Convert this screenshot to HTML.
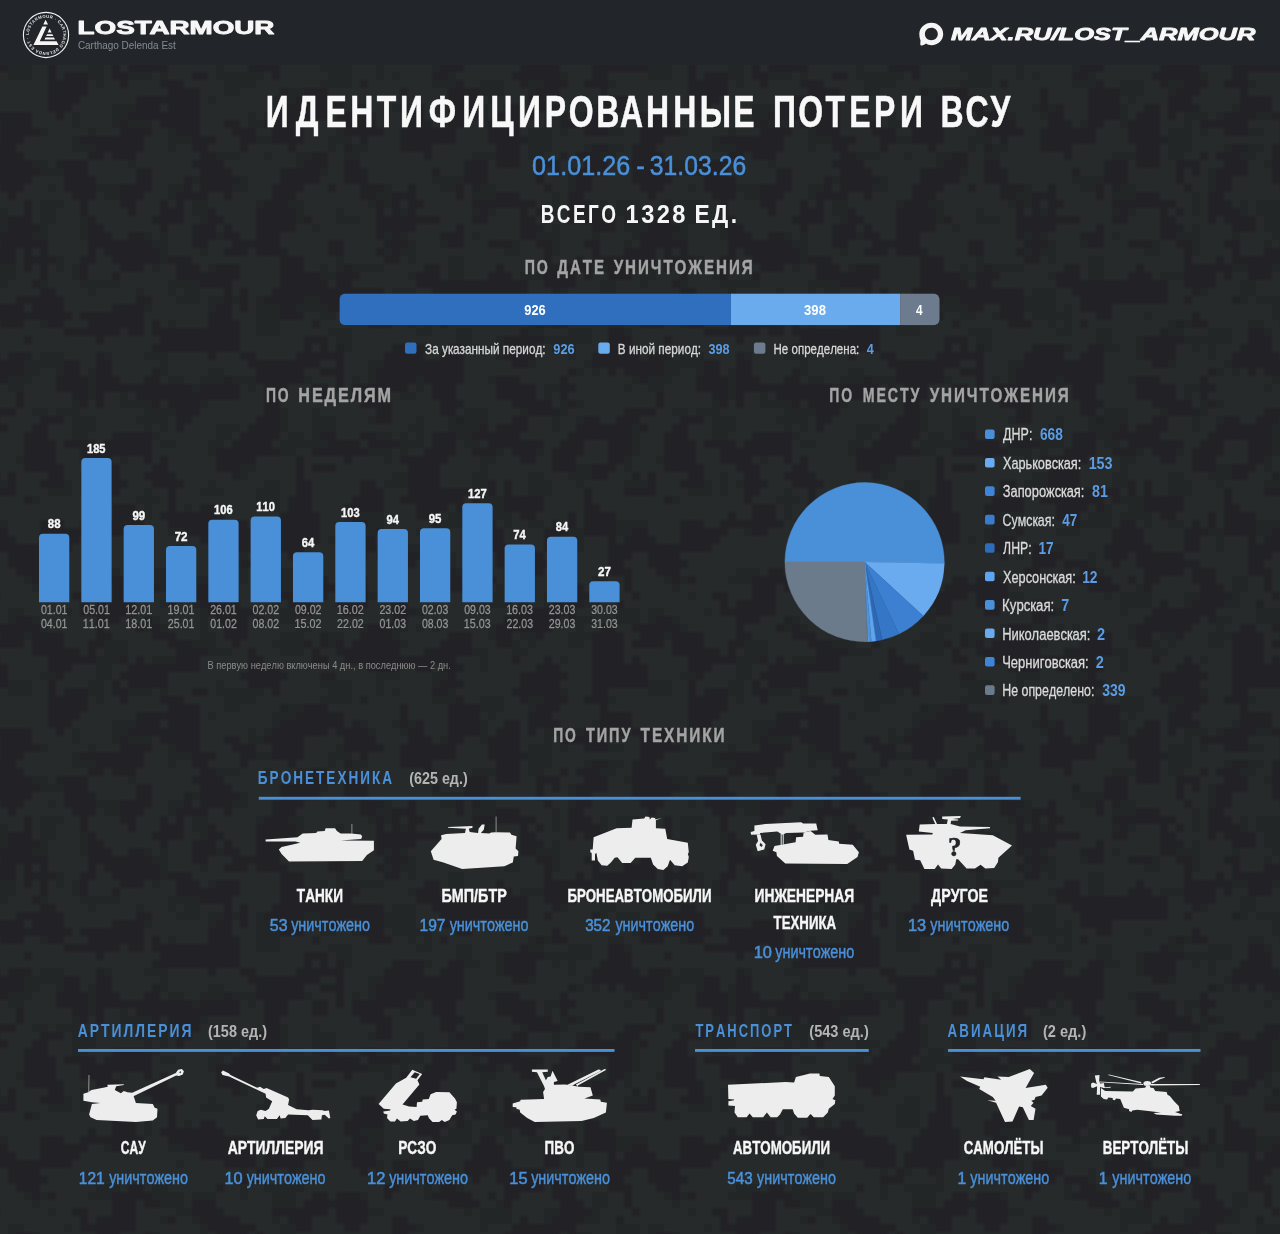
<!DOCTYPE html>
<html lang="ru">
<head>
<meta charset="utf-8">
<title>Идентифицированные потери ВСУ — LostArmour</title>
<style>
html,body{margin:0;padding:0;background:#212526;}
body{width:1280px;height:1234px;overflow:hidden;font-family:"Liberation Sans",sans-serif;}
#page{position:relative;width:1280px;height:1234px;overflow:hidden;background:#242828;}
#bg{position:absolute;left:0;top:0;width:1280px;height:1234px;}
#hdr{position:absolute;left:0;top:0;width:1280px;height:65px;background:#22262b;}
#main{position:absolute;left:0;top:0;width:1280px;height:1234px;font-family:"Liberation Sans",sans-serif;will-change:transform;}
#hdr svg{will-change:transform;}
#main text{white-space:pre;}
</style>
</head>
<body>
<div id="page">
<svg id="bg" width="1280" height="1234" viewBox="0 0 1280 1234" >
<defs><pattern id="camo" width="640" height="616" patternUnits="userSpaceOnUse">
<rect width="640" height="616" fill="#272b29"/>
<path d="M8,0h8v8h-8zM32,0h8v8h-8zM152,0h8v8h-8zM200,0h8v8h-8zM280,0h16v8h-16zM576,0h16v8h-16zM616,0h24v8h-24zM40,8h8v8h-8zM144,8h8v8h-8zM160,8h8v8h-8zM200,8h8v8h-8zM296,8h16v8h-16zM360,8h8v8h-8zM392,8h16v8h-16zM416,8h8v8h-8zM432,8h8v8h-8zM488,8h8v8h-8zM576,8h8v8h-8zM24,16h8v8h-8zM200,16h16v8h-16zM280,16h24v8h-24zM328,16h16v8h-16zM392,16h8v8h-8zM488,16h8v8h-8zM520,16h16v8h-16zM568,16h24v8h-24zM104,24h24v8h-24zM192,24h24v8h-24zM272,24h32v8h-32zM328,24h8v8h-8zM400,24h8v8h-8zM512,24h8v8h-8zM528,24h8v8h-8zM568,24h16v8h-16zM104,32h24v8h-24zM208,32h24v8h-24zM280,32h24v8h-24zM472,32h16v8h-16zM512,32h16v8h-16zM96,40h24v8h-24zM152,40h24v8h-24zM480,40h8v8h-8zM560,40h8v8h-8zM96,48h16v8h-16zM480,48h8v8h-8zM40,56h16v8h-16zM96,56h16v8h-16zM376,56h24v8h-24zM432,56h16v8h-16zM8,64h24v8h-24zM88,64h16v8h-16zM216,64h8v8h-8zM320,64h32v8h-32zM376,64h8v8h-8zM432,64h8v8h-8zM8,72h24v8h-24zM88,72h16v8h-16zM128,72h24v8h-24zM160,72h8v8h-8zM216,72h48v8h-48zM328,72h24v8h-24zM376,72h8v8h-8zM392,72h8v8h-8zM448,72h8v8h-8zM560,72h8v8h-8zM96,80h8v8h-8zM224,80h32v8h-32zM320,80h32v8h-32zM432,80h24v8h-24zM480,80h24v8h-24zM528,80h16v8h-16zM608,80h8v8h-8zM224,88h16v8h-16zM288,88h16v8h-16zM480,88h24v8h-24zM528,88h8v8h-8zM208,96h8v8h-8zM272,96h24v8h-24zM488,96h8v8h-8zM112,104h24v8h-24zM272,104h8v8h-8zM360,104h8v8h-8zM392,104h8v8h-8zM408,104h8v8h-8zM480,104h8v8h-8zM592,104h8v8h-8zM72,112h8v8h-8zM112,112h16v8h-16zM248,112h8v8h-8zM264,112h8v8h-8zM368,112h8v8h-8zM400,112h8v8h-8zM480,112h8v8h-8zM544,112h24v8h-24zM576,112h8v8h-8zM616,112h16v8h-16zM72,120h8v8h-8zM112,120h8v8h-8zM128,120h24v8h-24zM248,120h16v8h-16zM440,120h8v8h-8zM480,120h8v8h-8zM544,120h8v8h-8zM40,128h8v8h-8zM88,128h8v8h-8zM168,128h8v8h-8zM336,128h8v8h-8zM528,128h24v8h-24zM560,128h8v8h-8zM608,128h16v8h-16zM72,136h8v8h-8zM168,136h24v8h-24zM256,136h16v8h-16zM328,136h24v8h-24zM528,136h24v8h-24zM72,144h24v8h-24zM168,144h8v8h-8zM328,144h8v8h-8zM352,144h16v8h-16zM528,144h24v8h-24zM584,144h8v8h-8zM608,144h16v8h-16zM216,152h24v8h-24zM264,152h8v8h-8zM296,152h16v8h-16zM344,152h16v8h-16zM472,152h24v8h-24zM528,152h16v8h-16zM600,152h16v8h-16zM32,160h16v8h-16zM128,160h8v8h-8zM296,160h8v8h-8zM624,160h8v8h-8zM40,168h24v8h-24zM320,168h8v8h-8zM568,168h8v8h-8zM192,176h8v8h-8zM240,176h8v8h-8zM432,176h32v8h-32zM568,176h8v8h-8zM48,184h8v8h-8zM96,184h24v8h-24zM168,184h16v8h-16zM232,184h16v8h-16zM384,184h8v8h-8zM440,184h16v8h-16zM480,184h16v8h-16zM568,184h8v8h-8zM104,192h16v8h-16zM168,192h8v8h-8zM376,192h16v8h-16zM472,192h24v8h-24zM552,192h8v8h-8zM40,200h24v8h-24zM192,200h16v8h-16zM256,200h8v8h-8zM288,200h16v8h-16zM368,200h8v8h-8zM384,200h8v8h-8zM552,200h8v8h-8zM600,200h8v8h-8zM616,200h24v8h-24zM0,208h8v8h-8zM40,208h16v8h-16zM192,208h16v8h-16zM296,208h8v8h-8zM336,208h8v8h-8zM400,208h8v8h-8zM472,208h8v8h-8zM488,208h8v8h-8zM552,208h8v8h-8zM600,208h8v8h-8zM616,208h24v8h-24zM0,216h8v8h-8zM40,216h16v8h-16zM80,216h8v8h-8zM200,216h8v8h-8zM296,216h8v8h-8zM336,216h24v8h-24zM624,216h16v8h-16zM0,224h8v8h-8zM40,224h8v8h-8zM80,224h8v8h-8zM312,224h8v8h-8zM552,224h8v8h-8zM624,224h16v8h-16zM32,232h16v8h-16zM80,232h8v8h-8zM144,232h8v8h-8zM160,232h8v8h-8zM216,232h8v8h-8zM384,232h8v8h-8zM400,232h8v8h-8zM472,232h8v8h-8zM536,232h24v8h-24zM592,232h8v8h-8zM632,232h8v8h-8zM152,240h16v8h-16zM408,240h8v8h-8zM440,240h8v8h-8zM512,240h8v8h-8zM552,240h8v8h-8zM624,240h8v8h-8zM160,248h8v8h-8zM200,248h8v8h-8zM384,248h8v8h-8zM400,248h16v8h-16zM504,248h16v8h-16zM552,248h8v8h-8zM56,256h8v8h-8zM160,256h8v8h-8zM336,256h8v8h-8zM408,256h8v8h-8zM448,256h16v8h-16zM0,264h16v8h-16zM56,264h8v8h-8zM72,264h8v8h-8zM152,264h8v8h-8zM208,264h8v8h-8zM320,264h8v8h-8zM336,264h8v8h-8zM352,264h32v8h-32zM448,264h16v8h-16zM592,264h16v8h-16zM632,264h8v8h-8zM0,272h16v8h-16zM72,272h8v8h-8zM320,272h16v8h-16zM408,272h8v8h-8zM448,272h16v8h-16zM520,272h24v8h-24zM0,280h8v8h-8zM40,280h8v8h-8zM80,280h40v8h-40zM168,280h32v8h-32zM600,280h16v8h-16zM88,288h8v8h-8zM136,288h8v8h-8zM168,288h8v8h-8zM184,288h16v8h-16zM392,288h24v8h-24zM560,288h8v8h-8zM600,288h16v8h-16zM176,296h24v8h-24zM208,296h16v8h-16zM232,296h8v8h-8zM256,296h8v8h-8zM304,296h16v8h-16zM384,296h32v8h-32zM600,296h8v8h-8zM616,296h24v8h-24zM144,304h8v8h-8zM208,304h8v8h-8zM256,304h24v8h-24zM296,304h32v8h-32zM384,304h32v8h-32zM424,304h8v8h-8zM632,304h8v8h-8zM256,312h24v8h-24zM320,312h16v8h-16zM352,312h8v8h-8zM392,312h40v8h-40zM504,312h8v8h-8zM632,312h8v8h-8zM40,320h8v8h-8zM168,320h8v8h-8zM256,320h24v8h-24zM408,320h8v8h-8zM424,320h8v8h-8zM528,320h8v8h-8zM544,320h8v8h-8zM608,320h16v8h-16zM256,328h24v8h-24zM328,328h24v8h-24zM416,328h16v8h-16zM456,328h16v8h-16zM528,328h16v8h-16zM568,328h24v8h-24zM624,328h8v8h-8zM336,336h16v8h-16zM456,336h16v8h-16zM496,336h8v8h-8zM544,336h48v8h-48zM344,344h8v8h-8zM424,344h8v8h-8zM464,344h16v8h-16zM496,344h8v8h-8zM552,344h8v8h-8zM568,344h8v8h-8zM40,352h24v8h-24zM104,352h8v8h-8zM144,352h24v8h-24zM496,352h8v8h-8zM568,352h8v8h-8zM24,360h40v8h-40zM160,360h8v8h-8zM368,360h16v8h-16zM528,360h8v8h-8zM584,360h8v8h-8zM24,368h16v8h-16zM56,368h8v8h-8zM88,368h8v8h-8zM160,368h8v8h-8zM208,368h16v8h-16zM368,368h8v8h-8zM576,368h8v8h-8zM592,368h8v8h-8zM8,376h24v8h-24zM88,376h8v8h-8zM168,376h16v8h-16zM200,376h24v8h-24zM232,376h24v8h-24zM304,376h8v8h-8zM352,376h8v8h-8zM368,376h8v8h-8zM416,376h8v8h-8zM488,376h8v8h-8zM632,376h8v8h-8zM8,384h16v8h-16zM88,384h8v8h-8zM192,384h8v8h-8zM248,384h8v8h-8zM416,384h8v8h-8zM544,384h16v8h-16zM624,384h8v8h-8zM88,392h8v8h-8zM120,392h8v8h-8zM400,392h16v8h-16zM544,392h8v8h-8zM72,400h8v8h-8zM120,400h32v8h-32zM200,400h8v8h-8zM560,400h8v8h-8zM576,400h8v8h-8zM32,408h16v8h-16zM56,408h24v8h-24zM144,408h32v8h-32zM280,408h8v8h-8zM312,408h8v8h-8zM464,408h24v8h-24zM520,408h8v8h-8zM560,408h8v8h-8zM72,416h24v8h-24zM136,416h32v8h-32zM280,416h8v8h-8zM312,416h24v8h-24zM368,416h8v8h-8zM416,416h8v8h-8zM448,416h8v8h-8zM464,416h24v8h-24zM552,416h8v8h-8zM576,416h8v8h-8zM72,424h24v8h-24zM144,424h8v8h-8zM160,424h8v8h-8zM216,424h24v8h-24zM280,424h8v8h-8zM312,424h24v8h-24zM408,424h16v8h-16zM448,424h32v8h-32zM552,424h8v8h-8zM632,424h8v8h-8zM72,432h16v8h-16zM152,432h8v8h-8zM216,432h16v8h-16zM288,432h16v8h-16zM312,432h8v8h-8zM376,432h16v8h-16zM400,432h8v8h-8zM416,432h8v8h-8zM456,432h16v8h-16zM632,432h8v8h-8zM160,440h16v8h-16zM208,440h16v8h-16zM280,440h48v8h-48zM400,440h24v8h-24zM464,440h16v8h-16zM632,440h8v8h-8zM208,448h8v8h-8zM280,448h16v8h-16zM368,448h24v8h-24zM400,448h8v8h-8zM496,448h8v8h-8zM536,448h8v8h-8zM632,448h8v8h-8zM16,456h8v8h-8zM120,456h8v8h-8zM384,456h8v8h-8zM480,456h16v8h-16zM624,456h8v8h-8zM240,464h16v8h-16zM480,464h8v8h-8zM576,464h16v8h-16zM624,464h8v8h-8zM80,472h8v8h-8zM240,472h8v8h-8zM392,472h16v8h-16zM472,472h16v8h-16zM528,472h16v8h-16zM568,472h24v8h-24zM0,480h8v8h-8zM64,480h8v8h-8zM80,480h8v8h-8zM96,480h8v8h-8zM208,480h8v8h-8zM264,480h16v8h-16zM384,480h24v8h-24zM472,480h16v8h-16zM528,480h24v8h-24zM576,480h8v8h-8zM624,480h16v8h-16zM48,488h24v8h-24zM80,488h8v8h-8zM144,488h8v8h-8zM200,488h24v8h-24zM256,488h24v8h-24zM528,488h24v8h-24zM32,496h8v8h-8zM136,496h24v8h-24zM256,496h24v8h-24zM480,496h24v8h-24zM144,504h8v8h-8zM184,504h8v8h-8zM256,504h24v8h-24zM464,504h8v8h-8zM488,504h16v8h-16zM144,512h8v8h-8zM360,512h24v8h-24zM448,512h24v8h-24zM480,512h32v8h-32zM0,520h8v8h-8zM368,520h16v8h-16zM440,520h32v8h-32zM504,520h8v8h-8zM528,520h16v8h-16zM616,520h24v8h-24zM104,528h8v8h-8zM168,528h16v8h-16zM344,528h8v8h-8zM360,528h16v8h-16zM416,528h24v8h-24zM568,528h16v8h-16zM616,528h16v8h-16zM328,536h8v8h-8zM344,536h8v8h-8zM576,536h8v8h-8zM176,544h8v8h-8zM376,544h8v8h-8zM408,544h16v8h-16zM576,544h8v8h-8zM240,552h8v8h-8zM264,552h8v8h-8zM296,552h8v8h-8zM376,552h8v8h-8zM448,552h8v8h-8zM296,560h8v8h-8zM448,560h8v8h-8zM96,568h24v8h-24zM152,568h16v8h-16zM240,568h8v8h-8zM264,568h40v8h-40zM424,568h8v8h-8zM456,568h8v8h-8zM24,576h8v8h-8zM40,576h8v8h-8zM88,576h24v8h-24zM152,576h32v8h-32zM192,576h24v8h-24zM240,576h8v8h-8zM272,576h24v8h-24zM360,576h8v8h-8zM424,576h8v8h-8zM592,576h16v8h-16zM32,584h8v8h-8zM160,584h24v8h-24zM272,584h24v8h-24zM496,584h8v8h-8zM592,584h16v8h-16zM48,592h8v8h-8zM176,592h16v8h-16zM368,592h16v8h-16zM464,592h8v8h-8zM480,592h32v8h-32zM544,592h16v8h-16zM592,592h8v8h-8zM160,600h8v8h-8zM192,600h8v8h-8zM272,600h8v8h-8zM480,600h32v8h-32zM544,600h8v8h-8zM584,600h16v8h-16zM8,608h16v8h-16zM64,608h8v8h-8zM200,608h8v8h-8zM280,608h16v8h-16zM416,608h8v8h-8zM480,608h8v8h-8zM616,608h24v8h-24z" fill="#242728"/>
<path d="M16,0h16v8h-16zM96,0h24v8h-24zM144,0h8v8h-8zM216,0h32v8h-32zM256,0h8v8h-8zM392,0h16v8h-16zM504,0h56v8h-56zM568,0h8v8h-8zM0,8h40v8h-40zM96,8h8v8h-8zM136,8h8v8h-8zM152,8h8v8h-8zM224,8h24v8h-24zM368,8h24v8h-24zM496,8h56v8h-56zM600,8h16v8h-16zM632,8h8v8h-8zM0,16h24v8h-24zM32,16h32v8h-32zM96,16h16v8h-16zM152,16h24v8h-24zM224,16h24v8h-24zM320,16h8v8h-8zM360,16h32v8h-32zM448,16h24v8h-24zM496,16h16v8h-16zM536,16h8v8h-8zM592,16h32v8h-32zM0,24h24v8h-24zM32,24h32v8h-32zM88,24h16v8h-16zM168,24h24v8h-24zM232,24h8v8h-8zM304,24h8v8h-8zM320,24h8v8h-8zM336,24h8v8h-8zM352,24h48v8h-48zM440,24h32v8h-32zM496,24h16v8h-16zM592,24h32v8h-32zM632,24h8v8h-8zM32,32h48v8h-48zM88,32h8v8h-8zM176,32h32v8h-32zM248,32h8v8h-8zM312,32h8v8h-8zM336,32h64v8h-64zM424,32h48v8h-48zM592,32h32v8h-32zM48,40h48v8h-48zM120,40h8v8h-8zM136,40h8v8h-8zM176,40h24v8h-24zM248,40h16v8h-16zM312,40h16v8h-16zM344,40h112v8h-112zM512,40h8v8h-8zM544,40h8v8h-8zM592,40h32v8h-32zM632,40h8v8h-8zM0,48h8v8h-8zM48,48h24v8h-24zM128,48h72v8h-72zM248,48h32v8h-32zM368,48h32v8h-32zM416,48h16v8h-16zM440,48h24v8h-24zM536,48h24v8h-24zM592,48h48v8h-48zM0,56h8v8h-8zM56,56h8v8h-8zM120,56h48v8h-48zM240,56h48v8h-48zM320,56h16v8h-16zM448,56h8v8h-8zM520,56h48v8h-48zM592,56h48v8h-48zM0,64h8v8h-8zM48,64h8v8h-8zM112,64h8v8h-8zM128,64h40v8h-40zM248,64h32v8h-32zM440,64h24v8h-24zM520,64h40v8h-40zM592,64h48v8h-48zM48,72h8v8h-8zM64,72h24v8h-24zM112,72h16v8h-16zM192,72h16v8h-16zM272,72h8v8h-8zM432,72h16v8h-16zM512,72h48v8h-48zM592,72h16v8h-16zM48,80h40v8h-40zM120,80h8v8h-8zM160,80h24v8h-24zM360,80h8v8h-8zM456,80h8v8h-8zM520,80h8v8h-8zM544,80h24v8h-24zM584,80h24v8h-24zM48,88h40v8h-40zM168,88h32v8h-32zM280,88h8v8h-8zM304,88h24v8h-24zM400,88h8v8h-8zM448,88h32v8h-32zM536,88h24v8h-24zM600,88h8v8h-8zM48,96h32v8h-32zM136,96h64v8h-64zM296,96h48v8h-48zM400,96h8v8h-8zM448,96h32v8h-32zM528,96h24v8h-24zM600,96h32v8h-32zM48,104h24v8h-24zM136,104h24v8h-24zM168,104h32v8h-32zM280,104h64v8h-64zM352,104h8v8h-8zM400,104h8v8h-8zM416,104h8v8h-8zM448,104h32v8h-32zM504,104h16v8h-16zM528,104h32v8h-32zM600,104h32v8h-32zM0,112h32v8h-32zM56,112h8v8h-8zM128,112h72v8h-72zM272,112h56v8h-56zM336,112h32v8h-32zM408,112h16v8h-16zM448,112h32v8h-32zM496,112h24v8h-24zM528,112h8v8h-8zM584,112h32v8h-32zM632,112h8v8h-8zM0,120h32v8h-32zM120,120h8v8h-8zM160,120h40v8h-40zM224,120h16v8h-16zM264,120h40v8h-40zM344,120h32v8h-32zM408,120h24v8h-24zM448,120h16v8h-16zM488,120h32v8h-32zM560,120h48v8h-48zM0,128h40v8h-40zM120,128h32v8h-32zM176,128h24v8h-24zM232,128h24v8h-24zM272,128h32v8h-32zM344,128h40v8h-40zM400,128h56v8h-56zM488,128h32v8h-32zM584,128h24v8h-24zM0,136h24v8h-24zM80,136h64v8h-64zM192,136h24v8h-24zM240,136h16v8h-16zM272,136h32v8h-32zM360,136h8v8h-8zM400,136h56v8h-56zM488,136h40v8h-40zM0,144h16v8h-16zM96,144h48v8h-48zM192,144h16v8h-16zM240,144h8v8h-8zM288,144h8v8h-8zM344,144h8v8h-8zM400,144h32v8h-32zM496,144h24v8h-24zM592,144h16v8h-16zM632,144h8v8h-8zM0,152h24v8h-24zM88,152h16v8h-16zM112,152h24v8h-24zM200,152h16v8h-16zM312,152h16v8h-16zM424,152h8v8h-8zM496,152h24v8h-24zM560,152h8v8h-8zM576,152h24v8h-24zM632,152h8v8h-8zM0,160h32v8h-32zM56,160h32v8h-32zM192,160h32v8h-32zM304,160h24v8h-24zM344,160h16v8h-16zM464,160h24v8h-24zM496,160h24v8h-24zM536,160h24v8h-24zM584,160h24v8h-24zM632,160h8v8h-8zM0,168h40v8h-40zM64,168h24v8h-24zM136,168h16v8h-16zM200,168h32v8h-32zM280,168h40v8h-40zM344,168h24v8h-24zM432,168h8v8h-8zM464,168h24v8h-24zM536,168h8v8h-8zM552,168h8v8h-8zM576,168h32v8h-32zM632,168h8v8h-8zM0,176h32v8h-32zM64,176h32v8h-32zM136,176h16v8h-16zM184,176h8v8h-8zM200,176h40v8h-40zM280,176h40v8h-40zM344,176h24v8h-24zM464,176h24v8h-24zM536,176h8v8h-8zM576,176h16v8h-16zM632,176h8v8h-8zM0,184h24v8h-24zM64,184h32v8h-32zM120,184h32v8h-32zM184,184h8v8h-8zM200,184h32v8h-32zM272,184h32v8h-32zM328,184h8v8h-8zM360,184h24v8h-24zM408,184h8v8h-8zM456,184h8v8h-8zM472,184h8v8h-8zM544,184h8v8h-8zM576,184h16v8h-16zM8,192h8v8h-8zM72,192h24v8h-24zM120,192h24v8h-24zM176,192h32v8h-32zM224,192h8v8h-8zM272,192h24v8h-24zM360,192h16v8h-16zM392,192h24v8h-24zM456,192h8v8h-8zM496,192h24v8h-24zM568,192h16v8h-16zM24,200h8v8h-8zM80,200h8v8h-8zM120,200h16v8h-16zM160,200h8v8h-8zM176,200h8v8h-8zM264,200h24v8h-24zM376,200h8v8h-8zM392,200h8v8h-8zM408,200h16v8h-16zM472,200h64v8h-64zM568,200h24v8h-24zM24,208h8v8h-8zM80,208h8v8h-8zM128,208h8v8h-8zM160,208h24v8h-24zM208,208h8v8h-8zM256,208h40v8h-40zM376,208h8v8h-8zM392,208h8v8h-8zM408,208h8v8h-8zM480,208h8v8h-8zM520,208h8v8h-8zM536,208h8v8h-8zM568,208h32v8h-32zM8,216h24v8h-24zM88,216h8v8h-8zM152,216h32v8h-32zM208,216h16v8h-16zM256,216h40v8h-40zM304,216h8v8h-8zM376,216h64v8h-64zM472,216h16v8h-16zM520,216h16v8h-16zM568,216h8v8h-8zM584,216h32v8h-32zM8,224h32v8h-32zM88,224h16v8h-16zM160,224h8v8h-8zM192,224h24v8h-24zM224,224h8v8h-8zM256,224h40v8h-40zM376,224h40v8h-40zM456,224h8v8h-8zM520,224h24v8h-24zM592,224h24v8h-24zM0,232h32v8h-32zM88,232h24v8h-24zM128,232h16v8h-16zM192,232h24v8h-24zM224,232h16v8h-16zM256,232h24v8h-24zM376,232h8v8h-8zM392,232h8v8h-8zM440,232h24v8h-24zM520,232h16v8h-16zM0,240h48v8h-48zM88,240h64v8h-64zM192,240h16v8h-16zM232,240h48v8h-48zM328,240h16v8h-16zM384,240h24v8h-24zM448,240h16v8h-16zM488,240h24v8h-24zM536,240h16v8h-16zM584,240h16v8h-16zM0,248h16v8h-16zM24,248h8v8h-8zM40,248h8v8h-8zM88,248h8v8h-8zM104,248h56v8h-56zM224,248h24v8h-24zM256,248h32v8h-32zM328,248h16v8h-16zM376,248h8v8h-8zM392,248h8v8h-8zM544,248h8v8h-8zM592,248h8v8h-8zM624,248h16v8h-16zM0,256h16v8h-16zM24,256h32v8h-32zM80,256h16v8h-16zM112,256h48v8h-48zM168,256h24v8h-24zM280,256h24v8h-24zM384,256h16v8h-16zM544,256h8v8h-8zM576,256h8v8h-8zM592,256h48v8h-48zM24,264h8v8h-8zM40,264h8v8h-8zM80,264h8v8h-8zM120,264h24v8h-24zM176,264h24v8h-24zM216,264h24v8h-24zM280,264h24v8h-24zM344,264h8v8h-8zM424,264h16v8h-16zM496,264h8v8h-8zM544,264h48v8h-48zM608,264h24v8h-24zM40,272h8v8h-8zM80,272h8v8h-8zM112,272h8v8h-8zM176,272h64v8h-64zM280,272h40v8h-40zM336,272h24v8h-24zM416,272h24v8h-24zM488,272h24v8h-24zM544,272h32v8h-32zM584,272h8v8h-8zM608,272h24v8h-24zM32,280h8v8h-8zM200,280h32v8h-32zM280,280h48v8h-48zM336,280h16v8h-16zM416,280h112v8h-112zM544,280h32v8h-32zM40,288h16v8h-16zM224,288h8v8h-8zM240,288h8v8h-8zM272,288h112v8h-112zM432,288h96v8h-96zM552,288h8v8h-8zM16,296h48v8h-48zM136,296h16v8h-16zM224,296h8v8h-8zM240,296h8v8h-8zM264,296h40v8h-40zM320,296h64v8h-64zM440,296h88v8h-88zM544,296h8v8h-8zM592,296h8v8h-8zM0,304h24v8h-24zM32,304h32v8h-32zM112,304h32v8h-32zM216,304h16v8h-16zM240,304h8v8h-8zM280,304h16v8h-16zM328,304h16v8h-16zM360,304h24v8h-24zM440,304h32v8h-32zM0,312h72v8h-72zM80,312h64v8h-64zM208,312h24v8h-24zM280,312h24v8h-24zM360,312h24v8h-24zM456,312h16v8h-16zM552,312h8v8h-8zM0,320h24v8h-24zM48,320h16v8h-16zM88,320h56v8h-56zM152,320h8v8h-8zM208,320h32v8h-32zM312,320h8v8h-8zM368,320h24v8h-24zM440,320h8v8h-8zM536,320h8v8h-8zM552,320h16v8h-16zM64,328h56v8h-56zM128,328h16v8h-16zM152,328h88v8h-88zM520,328h8v8h-8zM608,328h16v8h-16zM24,336h8v8h-8zM96,336h8v8h-8zM160,336h80v8h-80zM304,336h24v8h-24zM504,336h40v8h-40zM608,336h24v8h-24zM152,344h88v8h-88zM304,344h8v8h-8zM320,344h8v8h-8zM336,344h8v8h-8zM392,344h32v8h-32zM448,344h16v8h-16zM504,344h32v8h-32zM600,344h32v8h-32zM8,352h24v8h-24zM96,352h8v8h-8zM208,352h8v8h-8zM240,352h16v8h-16zM296,352h48v8h-48zM384,352h40v8h-40zM440,352h24v8h-24zM504,352h32v8h-32zM592,352h48v8h-48zM0,360h24v8h-24zM64,360h16v8h-16zM96,360h16v8h-16zM248,360h72v8h-72zM336,360h8v8h-8zM384,360h80v8h-80zM512,360h16v8h-16zM592,360h48v8h-48zM0,368h24v8h-24zM64,368h16v8h-16zM96,368h16v8h-16zM152,368h8v8h-8zM256,368h48v8h-48zM320,368h24v8h-24zM376,368h88v8h-88zM568,368h8v8h-8zM608,368h8v8h-8zM624,368h16v8h-16zM0,376h8v8h-8zM56,376h32v8h-32zM96,376h24v8h-24zM144,376h16v8h-16zM224,376h8v8h-8zM256,376h48v8h-48zM336,376h8v8h-8zM376,376h40v8h-40zM424,376h40v8h-40zM496,376h24v8h-24zM560,376h8v8h-8zM56,384h32v8h-32zM96,384h96v8h-96zM200,384h40v8h-40zM264,384h24v8h-24zM312,384h16v8h-16zM336,384h8v8h-8zM352,384h56v8h-56zM432,384h24v8h-24zM496,384h40v8h-40zM560,384h16v8h-16zM16,392h8v8h-8zM72,392h16v8h-16zM96,392h8v8h-8zM136,392h104v8h-104zM264,392h24v8h-24zM312,392h16v8h-16zM352,392h32v8h-32zM432,392h24v8h-24zM496,392h40v8h-40zM560,392h8v8h-8zM16,400h8v8h-8zM80,400h8v8h-8zM96,400h8v8h-8zM152,400h8v8h-8zM168,400h32v8h-32zM264,400h16v8h-16zM360,400h32v8h-32zM440,400h24v8h-24zM512,400h40v8h-40zM568,400h8v8h-8zM0,408h16v8h-16zM176,408h24v8h-24zM264,408h16v8h-16zM376,408h16v8h-16zM440,408h16v8h-16zM528,408h32v8h-32zM624,408h16v8h-16zM40,416h24v8h-24zM176,416h16v8h-16zM256,416h24v8h-24zM376,416h16v8h-16zM456,416h8v8h-8zM512,416h16v8h-16zM584,416h16v8h-16zM616,416h24v8h-24zM0,424h8v8h-8zM32,424h16v8h-16zM176,424h8v8h-8zM248,424h32v8h-32zM480,424h8v8h-8zM496,424h32v8h-32zM576,424h56v8h-56zM24,432h24v8h-24zM112,432h40v8h-40zM240,432h40v8h-40zM320,432h16v8h-16zM360,432h16v8h-16zM432,432h24v8h-24zM472,432h48v8h-48zM568,432h64v8h-64zM24,440h32v8h-32zM64,440h32v8h-32zM104,440h48v8h-48zM232,440h40v8h-40zM328,440h32v8h-32zM368,440h32v8h-32zM432,440h24v8h-24zM488,440h56v8h-56zM560,440h24v8h-24zM608,440h24v8h-24zM24,448h32v8h-32zM80,448h72v8h-72zM216,448h64v8h-64zM312,448h56v8h-56zM424,448h32v8h-32zM472,448h24v8h-24zM512,448h24v8h-24zM552,448h32v8h-32zM608,448h24v8h-24zM24,456h32v8h-32zM80,456h32v8h-32zM144,456h8v8h-8zM160,456h8v8h-8zM216,456h40v8h-40zM296,456h8v8h-8zM344,456h8v8h-8zM400,456h48v8h-48zM520,456h16v8h-16zM552,456h24v8h-24zM608,456h16v8h-16zM24,464h40v8h-40zM96,464h24v8h-24zM152,464h16v8h-16zM216,464h24v8h-24zM296,464h8v8h-8zM312,464h24v8h-24zM408,464h32v8h-32zM552,464h24v8h-24zM592,464h24v8h-24zM8,472h8v8h-8zM48,472h16v8h-16zM104,472h16v8h-16zM144,472h32v8h-32zM232,472h8v8h-8zM296,472h8v8h-8zM408,472h32v8h-32zM592,472h16v8h-16zM632,472h8v8h-8zM8,480h8v8h-8zM40,480h24v8h-24zM104,480h24v8h-24zM152,480h32v8h-32zM296,480h16v8h-16zM360,480h16v8h-16zM408,480h32v8h-32zM488,480h8v8h-8zM504,480h8v8h-8zM0,488h16v8h-16zM104,488h16v8h-16zM168,488h8v8h-8zM296,488h16v8h-16zM360,488h24v8h-24zM408,488h72v8h-72zM488,488h8v8h-8zM504,488h8v8h-8zM584,488h8v8h-8zM624,488h16v8h-16zM24,496h8v8h-8zM104,496h8v8h-8zM168,496h8v8h-8zM288,496h24v8h-24zM352,496h32v8h-32zM400,496h64v8h-64zM472,496h8v8h-8zM504,496h40v8h-40zM584,496h8v8h-8zM112,504h24v8h-24zM168,504h8v8h-8zM200,504h16v8h-16zM288,504h24v8h-24zM344,504h40v8h-40zM416,504h32v8h-32zM456,504h8v8h-8zM504,504h40v8h-40zM584,504h16v8h-16zM88,512h8v8h-8zM112,512h24v8h-24zM160,512h64v8h-64zM280,512h40v8h-40zM344,512h16v8h-16zM416,512h24v8h-24zM520,512h16v8h-16zM568,512h8v8h-8zM584,512h32v8h-32zM40,520h24v8h-24zM80,520h64v8h-64zM168,520h80v8h-80zM272,520h48v8h-48zM352,520h16v8h-16zM432,520h8v8h-8zM480,520h16v8h-16zM552,520h8v8h-8zM568,520h8v8h-8zM584,520h32v8h-32zM0,528h8v8h-8zM40,528h48v8h-48zM112,528h16v8h-16zM184,528h72v8h-72zM272,528h48v8h-48zM352,528h8v8h-8zM376,528h8v8h-8zM472,528h32v8h-32zM544,528h24v8h-24zM584,528h32v8h-32zM632,528h8v8h-8zM0,536h16v8h-16zM40,536h40v8h-40zM200,536h56v8h-56zM264,536h56v8h-56zM352,536h24v8h-24zM472,536h32v8h-32zM544,536h16v8h-16zM608,536h8v8h-8zM624,536h16v8h-16zM0,544h72v8h-72zM224,544h32v8h-32zM264,544h40v8h-40zM352,544h24v8h-24zM392,544h16v8h-16zM464,544h48v8h-48zM544,544h16v8h-16zM608,544h32v8h-32zM8,552h32v8h-32zM256,552h8v8h-8zM288,552h8v8h-8zM360,552h8v8h-8zM392,552h32v8h-32zM464,552h24v8h-24zM496,552h48v8h-48zM608,552h24v8h-24zM8,560h40v8h-40zM240,560h24v8h-24zM392,560h24v8h-24zM424,560h24v8h-24zM472,560h8v8h-8zM496,560h64v8h-64zM608,560h16v8h-16zM16,568h24v8h-24zM128,568h16v8h-16zM216,568h8v8h-8zM384,568h16v8h-16zM440,568h16v8h-16zM504,568h40v8h-40zM552,568h24v8h-24zM608,568h24v8h-24zM32,576h8v8h-8zM48,576h8v8h-8zM112,576h40v8h-40zM312,576h16v8h-16zM336,576h24v8h-24zM384,576h8v8h-8zM432,576h40v8h-40zM488,576h8v8h-8zM504,576h16v8h-16zM552,576h24v8h-24zM624,576h8v8h-8zM112,584h24v8h-24zM144,584h16v8h-16zM192,584h24v8h-24zM304,584h64v8h-64zM448,584h32v8h-32zM504,584h8v8h-8zM560,584h24v8h-24zM624,584h8v8h-8zM72,592h16v8h-16zM112,592h24v8h-24zM192,592h32v8h-32zM272,592h56v8h-56zM336,592h32v8h-32zM560,592h32v8h-32zM632,592h8v8h-8zM80,600h8v8h-8zM96,600h40v8h-40zM168,600h8v8h-8zM200,600h40v8h-40zM288,600h24v8h-24zM336,600h32v8h-32zM392,600h16v8h-16zM520,600h8v8h-8zM552,600h32v8h-32zM616,600h8v8h-8zM80,608h56v8h-56zM208,608h48v8h-48zM296,608h16v8h-16zM344,608h16v8h-16zM392,608h24v8h-24zM512,608h64v8h-64z" fill="#202426"/>
</pattern></defs>
<filter id="soft" x="0" y="0" width="100%" height="100%"><feGaussianBlur stdDeviation="1.1"/></filter>
<rect x="-8" y="-8" width="1296" height="1250" fill="url(#camo)" filter="url(#soft)"/>
</svg>
<div id="hdr">
<svg width="1280" height="65" viewBox="0 0 1280 65" style="position:absolute;left:0;top:0;font-family:'Liberation Sans',sans-serif">
<defs><path id="ringtxt" d="M46,35 m-17.2,0 a17.2,17.2 0 1,1 34.4,0 a17.2,17.2 0 1,1 -34.4,0"/></defs>
<circle cx="46" cy="35" r="22.6" fill="none" stroke="#f2f2f2" stroke-width="1.1"/>
<text font-size="4.2" font-weight="700" fill="#e2e2e2" textLength="105" lengthAdjust="spacing"><textPath href="#ringtxt" startOffset="0">LOSTARMOUR · CARTHAGO DELENDA EST ·</textPath></text>
<path d="M45.6,19.8 L48,24.6 L43.3,24.6 Z" fill="#f5f5f5"/>
<path d="M42.4,26.6 L46.6,26.6 L39.8,41.2 L56.6,41.2 L58.6,44.9 L33.4,44.9 Z" fill="#f5f5f5"/>
<path d="M49.6,28.6 L51.6,32.6 L47.7,32.6 Z M47,34.2 L52.4,34.2 L53.3,36 L46.2,36 Z M45.5,37.4 L54,37.4 L55,39.4 L44.6,39.4 Z" fill="#f5f5f5"/>
<text x="77.6" y="33.7" font-size="18.7" font-weight="700" fill="#f7f7f7" stroke="#f7f7f7" stroke-width="0.9" stroke-linejoin="round" textLength="196.8" lengthAdjust="spacingAndGlyphs">LOSTARMOUR</text>
<text x="77.9" y="48.75" font-size="11.8" fill="#858a93" textLength="97.9" lengthAdjust="spacingAndGlyphs">Carthago Delenda Est</text>
<!-- MAX icon -->
<path d="M931.5,22.7 C938,22.7 943.2,27.6 943.2,34 C943.2,40.4 938,45.2 931.5,45.2 C929.3,45.2 927.6,44.7 926,43.6 C924.6,44.9 922.8,45.6 921.2,45.4 C920.4,45.3 920.2,44.6 920.3,43.8 L920.5,40.6 C919.7,38.6 919.3,36.4 919.3,34 C919.3,27.6 925,22.7 931.5,22.7 Z M931.4,27.8 C927.6,27.8 924.9,30.6 924.9,34 C924.9,37.6 927.6,40.2 931.4,40.2 C935,40.2 937.8,37.5 937.8,34 C937.8,30.5 935,27.8 931.4,27.8 Z" fill="#f5f5f5" fill-rule="evenodd"/>
<text x="951.0" y="40.3" font-size="17.2" font-weight="700" font-style="italic" fill="#f7f7f7" stroke="#f7f7f7" stroke-width="0.8" stroke-linejoin="round" textLength="304.3" lengthAdjust="spacingAndGlyphs">MAX.RU/LOST_ARMOUR</text>
</svg>
</div>

<svg id="main" width="1280" height="1234" viewBox="0 0 1280 1234">
<text transform="scale(0.71,1)" x="374.26 416.43 458.31 493.48 530.75 563.56 604.04 651.09 690.39 729.47 767.36 801.18 839.75 873.36 909.82 948.13 985.44 1032.82 1070.72 1088.62 1124.21 1162.72 1196.06 1231.16 1267.78 1306.30 1324.82 1359.78 1395.22" y="126.80" font-size="45" font-weight="700" fill="#f8f8f8" stroke="#f8f8f8" stroke-width="0.5">ИДЕНТИФИЦИРОВАННЫЕ ПОТЕРИ ВСУ</text>
<text transform="scale(0.9009,1)" x="590.63 606.20 621.77 629.55 645.13 660.70 668.48 684.05" y="175.50" font-size="28" font-weight="400" fill="#4a90d9" stroke="#4a90d9" stroke-width="0.5">01.01.26</text>
<text transform="scale(0.9216,1)" x="690.27" y="175.50" font-size="28" font-weight="400" fill="#4a90d9" stroke="#4a90d9" stroke-width="0.5">-</text>
<text transform="scale(0.8838,1)" x="735.28 750.85 766.42 774.20 789.77 805.35 813.13 828.70" y="175.50" font-size="28" font-weight="400" fill="#4a90d9" stroke="#4a90d9" stroke-width="0.5">31.03.26</text>
<text transform="scale(0.7297,1)" x="741.07 763.13 785.20 805.83 823.86" y="223.00" font-size="26" font-weight="700" fill="#f6f6f6">ВСЕГО</text>
<text transform="scale(0.9097,1)" x="687.70 704.80 721.90 739.00" y="223.00" font-size="26" font-weight="700" fill="#f6f6f6">1328</text>
<text transform="scale(0.8772,1)" x="791.60 811.68 832.93" y="223.00" font-size="26" font-weight="700" fill="#f6f6f6">ЕД.</text>
<text transform="scale(0.6760,1)" x="776.10 794.00" y="274.25" font-size="21" font-weight="700" fill="#a4a4a4" stroke="#a4a4a4" stroke-width="0.45">ПО</text>
<text transform="scale(0.7184,1)" x="775.82 793.42 811.23 826.70" y="274.25" font-size="21" font-weight="700" fill="#a4a4a4" stroke="#a4a4a4" stroke-width="0.45">ДАТЕ</text>
<text transform="scale(0.7240,1)" x="847.75 863.44 881.23 898.95 916.33 931.78 950.74 972.34 988.97 1006.76 1024.48" y="274.25" font-size="21" font-weight="700" fill="#a4a4a4" stroke="#a4a4a4" stroke-width="0.45">УНИЧТОЖЕНИЯ</text>
<clipPath id="barclip"><rect x="339.4" y="293.4" width="600.1" height="31.9" rx="6"/></clipPath>
<g clip-path="url(#barclip)">
<rect x="339.40" y="293.40" width="392.00" height="31.90" rx="0" fill="#2f6fbd"/>
<rect x="731.00" y="293.40" width="169.20" height="31.90" rx="0" fill="#6aabee"/>
<rect x="900.10" y="293.40" width="40.00" height="31.90" rx="0" fill="#6c7b8d"/>
</g>
<text transform="scale(0.8849,1)" x="592.49 600.56 608.62" y="315.50" font-size="14.5" font-weight="700" fill="#fff">926</text>
<text transform="scale(0.9054,1)" x="888.07 896.13 904.20" y="315.50" font-size="14.5" font-weight="700" fill="#fff">398</text>
<text transform="scale(0.8111,1)" x="1129.36" y="315.50" font-size="14.5" font-weight="700" fill="#fff">4</text>
<rect x="405.00" y="342.50" width="11.50" height="11.30" rx="2.2" fill="#2f6fbd"/>
<text transform="scale(0.8528,1)" x="498.50 506.84 514.51 518.35 525.25 531.28 538.96 545.29 552.96 560.58 568.20 578.12 585.83 589.67 597.14 604.81 612.49 620.20 627.87 635.92" y="353.75" font-size="13.8" font-weight="400" fill="#d6d6d6" stroke="#d6d6d6" stroke-width="0.3">За указанный период:</text>
<text transform="scale(0.9298,1)" x="595.08 602.75 610.43" y="353.75" font-size="13.8" font-weight="700" fill="#5b9ce3">926</text>
<rect x="598.30" y="342.50" width="11.50" height="11.30" rx="2.2" fill="#6aabee"/>
<text transform="scale(0.8527,1)" x="724.51 733.71 737.55 745.25 752.88 760.55 768.26 772.09 779.57 787.24 794.92 802.62 810.30 818.35" y="353.75" font-size="13.8" font-weight="400" fill="#d6d6d6" stroke="#d6d6d6" stroke-width="0.3">В иной период:</text>
<text transform="scale(0.9200,1)" x="770.09 777.77 785.44" y="353.75" font-size="13.8" font-weight="700" fill="#5b9ce3">398</text>
<rect x="753.90" y="342.50" width="11.50" height="11.30" rx="2.2" fill="#6c7b8d"/>
<text transform="scale(0.8361,1)" x="925.17 935.13 942.81 946.64 954.32 961.79 969.46 977.14 985.19 992.87 1000.92 1008.59 1016.21 1023.89" y="353.75" font-size="13.8" font-weight="400" fill="#d6d6d6" stroke="#d6d6d6" stroke-width="0.3">Не определена:</text>
<text transform="scale(0.9132,1)" x="949.24" y="353.75" font-size="13.8" font-weight="700" fill="#5b9ce3">4</text>
<text transform="scale(0.6719,1)" x="395.86 413.56" y="402.50" font-size="20.7" font-weight="700" fill="#a4a4a4" stroke="#a4a4a4" stroke-width="0.45">ПО</text>
<text transform="scale(0.7827,1)" x="381.13 398.50 414.74 431.91 448.15 465.10 482.40" y="402.50" font-size="20.7" font-weight="700" fill="#a4a4a4" stroke="#a4a4a4" stroke-width="0.45">НЕДЕЛЯМ</text>
<text transform="scale(0.6754,1)" x="1227.88 1245.57" y="402.50" font-size="20.7" font-weight="700" fill="#a4a4a4" stroke="#a4a4a4" stroke-width="0.45">ПО</text>
<text transform="scale(0.6854,1)" x="1258.82 1278.83 1295.41 1313.13 1328.55" y="402.50" font-size="20.7" font-weight="700" fill="#a4a4a4" stroke="#a4a4a4" stroke-width="0.45">МЕСТУ</text>
<text transform="scale(0.7360,1)" x="1263.16 1278.62 1296.15 1313.61 1330.74 1345.96 1364.65 1385.94 1402.32 1419.85 1437.31" y="402.50" font-size="20.7" font-weight="700" fill="#a4a4a4" stroke="#a4a4a4" stroke-width="0.45">УНИЧТОЖЕНИЯ</text>
<text transform="scale(0.6684,1)" x="827.61 845.33" y="741.75" font-size="20.7" font-weight="700" fill="#a4a4a4" stroke="#a4a4a4" stroke-width="0.45">ПО</text>
<text transform="scale(0.7024,1)" x="834.16 849.51 867.09 884.68" y="741.75" font-size="20.7" font-weight="700" fill="#a4a4a4" stroke="#a4a4a4" stroke-width="0.45">ТИПУ</text>
<text transform="scale(0.7439,1)" x="861.17 876.37 892.73 909.09 926.59 944.02 959.21" y="741.75" font-size="20.7" font-weight="700" fill="#a4a4a4" stroke="#a4a4a4" stroke-width="0.45">ТЕХНИКИ</text>
<path d="M39.00,602.20 V537.65 Q39.00,533.65 43.00,533.65 H65.30 Q69.30,533.65 69.30,537.65 V602.20 Z" fill="#4a90d9"/>
<text transform="scale(0.8793,1)" x="54.35 61.58" y="528.25" font-size="13" font-weight="700" fill="#f6f6f6" stroke="#f6f6f6" stroke-width="0.4">88</text>
<text transform="scale(0.8620,1)" x="47.49 54.33 61.17 64.59 71.43" y="614.20" font-size="12.3" font-weight="400" fill="#949494" stroke="#949494" stroke-width="0.25">01.01</text>
<text transform="scale(0.8620,1)" x="47.49 54.33 61.17 64.59 71.43" y="628.40" font-size="12.3" font-weight="400" fill="#949494" stroke="#949494" stroke-width="0.25">04.01</text>
<path d="M81.33,602.20 V462.09 Q81.33,458.09 85.33,458.09 H107.63 Q111.63,458.09 111.63,462.09 V602.20 Z" fill="#4a90d9"/>
<text transform="scale(0.8533,1)" x="102.00 109.23 116.46" y="452.69" font-size="13" font-weight="700" fill="#f6f6f6" stroke="#f6f6f6" stroke-width="0.4">185</text>
<text transform="scale(0.8620,1)" x="96.60 103.44 110.28 113.70 120.54" y="614.20" font-size="12.3" font-weight="400" fill="#949494" stroke="#949494" stroke-width="0.25">05.01</text>
<text transform="scale(0.8754,1)" x="94.65 101.49 108.33 111.75 118.59" y="628.40" font-size="12.3" font-weight="400" fill="#949494" stroke="#949494" stroke-width="0.25">11.01</text>
<path d="M123.66,602.20 V529.08 Q123.66,525.08 127.66,525.08 H149.96 Q153.96,525.08 153.96,529.08 V602.20 Z" fill="#4a90d9"/>
<text transform="scale(0.8871,1)" x="149.26 156.49" y="519.68" font-size="13" font-weight="700" fill="#f6f6f6" stroke="#f6f6f6" stroke-width="0.4">99</text>
<text transform="scale(0.8754,1)" x="143.00 149.84 156.68 160.10 166.94" y="614.20" font-size="12.3" font-weight="400" fill="#949494" stroke="#949494" stroke-width="0.25">12.01</text>
<text transform="scale(0.8754,1)" x="143.00 149.84 156.68 160.10 166.94" y="628.40" font-size="12.3" font-weight="400" fill="#949494" stroke="#949494" stroke-width="0.25">18.01</text>
<path d="M165.99,602.20 V550.11 Q165.99,546.11 169.99,546.11 H192.29 Q196.29,546.11 196.29,550.11 V602.20 Z" fill="#4a90d9"/>
<text transform="scale(0.8968,1)" x="194.74 201.97" y="540.71" font-size="13" font-weight="700" fill="#f6f6f6" stroke="#f6f6f6" stroke-width="0.4">72</text>
<text transform="scale(0.8754,1)" x="191.36 198.20 205.04 208.45 215.29" y="614.20" font-size="12.3" font-weight="400" fill="#949494" stroke="#949494" stroke-width="0.25">19.01</text>
<text transform="scale(0.8660,1)" x="193.77 200.61 207.45 210.87 217.71" y="628.40" font-size="12.3" font-weight="400" fill="#949494" stroke="#949494" stroke-width="0.25">25.01</text>
<path d="M208.32,602.20 V523.63 Q208.32,519.63 212.32,519.63 H234.62 Q238.62,519.63 238.62,523.63 V602.20 Z" fill="#4a90d9"/>
<text transform="scale(0.8578,1)" x="249.50 256.73 263.96" y="514.23" font-size="13" font-weight="700" fill="#f6f6f6" stroke="#f6f6f6" stroke-width="0.4">106</text>
<text transform="scale(0.8660,1)" x="242.65 249.49 256.33 259.75 266.59" y="614.20" font-size="12.3" font-weight="400" fill="#949494" stroke="#949494" stroke-width="0.25">26.01</text>
<text transform="scale(0.8625,1)" x="243.77 250.61 257.45 260.87 267.71" y="628.40" font-size="12.3" font-weight="400" fill="#949494" stroke="#949494" stroke-width="0.25">01.02</text>
<path d="M250.65,602.20 V520.51 Q250.65,516.51 254.65,516.51 H276.95 Q280.95,516.51 280.95,520.51 V602.20 Z" fill="#4a90d9"/>
<text transform="scale(0.8605,1)" x="297.92 305.15 312.38" y="511.11" font-size="13" font-weight="700" fill="#f6f6f6" stroke="#f6f6f6" stroke-width="0.4">110</text>
<text transform="scale(0.8625,1)" x="292.85 299.69 306.53 309.95 316.79" y="614.20" font-size="12.3" font-weight="400" fill="#949494" stroke="#949494" stroke-width="0.25">02.02</text>
<text transform="scale(0.8625,1)" x="292.85 299.69 306.53 309.95 316.79" y="628.40" font-size="12.3" font-weight="400" fill="#949494" stroke="#949494" stroke-width="0.25">08.02</text>
<path d="M292.98,602.20 V556.34 Q292.98,552.34 296.98,552.34 H319.28 Q323.28,552.34 323.28,556.34 V602.20 Z" fill="#4a90d9"/>
<text transform="scale(0.8624,1)" x="349.85 357.08" y="546.94" font-size="13" font-weight="700" fill="#f6f6f6" stroke="#f6f6f6" stroke-width="0.4">64</text>
<text transform="scale(0.8625,1)" x="341.93 348.77 355.61 359.03 365.87" y="614.20" font-size="12.3" font-weight="400" fill="#949494" stroke="#949494" stroke-width="0.25">09.02</text>
<text transform="scale(0.8760,1)" x="336.21 343.05 349.89 353.31 360.15" y="628.40" font-size="12.3" font-weight="400" fill="#949494" stroke="#949494" stroke-width="0.25">15.02</text>
<path d="M335.31,602.20 V525.96 Q335.31,521.96 339.31,521.96 H361.61 Q365.61,521.96 365.61,525.96 V602.20 Z" fill="#4a90d9"/>
<text transform="scale(0.8578,1)" x="397.54 404.77 412.00" y="516.56" font-size="13" font-weight="700" fill="#f6f6f6" stroke="#f6f6f6" stroke-width="0.4">103</text>
<text transform="scale(0.8760,1)" x="384.53 391.37 398.21 401.63 408.47" y="614.20" font-size="12.3" font-weight="400" fill="#949494" stroke="#949494" stroke-width="0.25">16.02</text>
<text transform="scale(0.8665,1)" x="389.05 395.89 402.73 406.15 412.99" y="628.40" font-size="12.3" font-weight="400" fill="#949494" stroke="#949494" stroke-width="0.25">22.02</text>
<path d="M377.64,602.20 V532.97 Q377.64,528.97 381.64,528.97 H403.94 Q407.94,528.97 407.94,532.97 V602.20 Z" fill="#4a90d9"/>
<text transform="scale(0.8609,1)" x="448.85 456.08" y="523.57" font-size="13" font-weight="700" fill="#f6f6f6" stroke="#f6f6f6" stroke-width="0.4">94</text>
<text transform="scale(0.8665,1)" x="437.90 444.74 451.58 454.99 461.84" y="614.20" font-size="12.3" font-weight="400" fill="#949494" stroke="#949494" stroke-width="0.25">23.02</text>
<text transform="scale(0.8602,1)" x="441.24 448.08 454.92 458.34 465.18" y="628.40" font-size="12.3" font-weight="400" fill="#949494" stroke="#949494" stroke-width="0.25">01.03</text>
<path d="M419.97,602.20 V532.20 Q419.97,528.20 423.97,528.20 H446.27 Q450.27,528.20 450.27,532.20 V602.20 Z" fill="#4a90d9"/>
<text transform="scale(0.8793,1)" x="487.58 494.81" y="522.80" font-size="13" font-weight="700" fill="#f6f6f6" stroke="#f6f6f6" stroke-width="0.4">95</text>
<text transform="scale(0.8602,1)" x="490.45 497.29 504.13 507.55 514.39" y="614.20" font-size="12.3" font-weight="400" fill="#949494" stroke="#949494" stroke-width="0.25">02.03</text>
<text transform="scale(0.8602,1)" x="490.45 497.29 504.13 507.55 514.39" y="628.40" font-size="12.3" font-weight="400" fill="#949494" stroke="#949494" stroke-width="0.25">08.03</text>
<path d="M462.30,602.20 V507.27 Q462.30,503.27 466.30,503.27 H488.60 Q492.60,503.27 492.60,507.27 V602.20 Z" fill="#4a90d9"/>
<text transform="scale(0.8621,1)" x="542.87 550.10 557.33" y="497.87" font-size="13" font-weight="700" fill="#f6f6f6" stroke="#f6f6f6" stroke-width="0.4">127</text>
<text transform="scale(0.8602,1)" x="539.66 546.50 553.34 556.76 563.60" y="614.20" font-size="12.3" font-weight="400" fill="#949494" stroke="#949494" stroke-width="0.25">09.03</text>
<text transform="scale(0.8736,1)" x="530.92 537.76 544.60 548.02 554.86" y="628.40" font-size="12.3" font-weight="400" fill="#949494" stroke="#949494" stroke-width="0.25">15.03</text>
<path d="M504.63,602.20 V548.55 Q504.63,544.55 508.63,544.55 H530.93 Q534.93,544.55 534.93,548.55 V602.20 Z" fill="#4a90d9"/>
<text transform="scale(0.8676,1)" x="591.64 598.87" y="539.15" font-size="13" font-weight="700" fill="#f6f6f6" stroke="#f6f6f6" stroke-width="0.4">74</text>
<text transform="scale(0.8736,1)" x="579.37 586.21 593.05 596.47 603.31" y="614.20" font-size="12.3" font-weight="400" fill="#949494" stroke="#949494" stroke-width="0.25">16.03</text>
<text transform="scale(0.8643,1)" x="585.99 592.83 599.67 603.09 609.93" y="628.40" font-size="12.3" font-weight="400" fill="#949494" stroke="#949494" stroke-width="0.25">22.03</text>
<path d="M546.96,602.20 V540.76 Q546.96,536.76 550.96,536.76 H573.26 Q577.26,536.76 577.26,540.76 V602.20 Z" fill="#4a90d9"/>
<text transform="scale(0.8585,1)" x="647.34 654.57" y="531.36" font-size="13" font-weight="700" fill="#f6f6f6" stroke="#f6f6f6" stroke-width="0.4">84</text>
<text transform="scale(0.8643,1)" x="634.97 641.81 648.65 652.07 658.91" y="614.20" font-size="12.3" font-weight="400" fill="#949494" stroke="#949494" stroke-width="0.25">23.03</text>
<text transform="scale(0.8643,1)" x="634.97 641.81 648.65 652.07 658.91" y="628.40" font-size="12.3" font-weight="400" fill="#949494" stroke="#949494" stroke-width="0.25">29.03</text>
<path d="M589.29,602.20 V585.17 Q589.29,581.17 593.29,581.17 H615.59 Q619.59,581.17 619.59,585.17 V602.20 Z" fill="#4a90d9"/>
<text transform="scale(0.8930,1)" x="669.70 676.93" y="575.77" font-size="13" font-weight="700" fill="#f6f6f6" stroke="#f6f6f6" stroke-width="0.4">27</text>
<text transform="scale(0.8599,1)" x="687.57 694.41 701.25 704.67 711.51" y="614.20" font-size="12.3" font-weight="400" fill="#949494" stroke="#949494" stroke-width="0.25">30.03</text>
<text transform="scale(0.8599,1)" x="687.57 694.41 701.25 704.67 711.51" y="628.40" font-size="12.3" font-weight="400" fill="#949494" stroke="#949494" stroke-width="0.25">31.03</text>
<text transform="scale(0.8509,1)" x="243.79 251.06 254.09 260.00 266.06 272.12 277.91 283.36 291.54 294.56 300.58 306.65 313.01 319.07 325.43 333.60 336.63 342.42 347.19 353.55 361.73 367.40 373.47 379.49 387.32 390.35 396.41 399.44 405.80 411.82 414.85 417.88 420.90 426.69 429.72 435.63 441.69 447.14 453.50 459.56 465.92 471.94 480.11 488.29 491.32 502.22 505.25 511.31 514.34 520.70 526.72" y="668.90" font-size="10.9" font-weight="400" fill="#8a8a8a">В первую неделю включены 4 дн., в последнюю — 2 дн.</text>
<path d="M864.6,562.0 L784.90,562.00 A79.7,79.7 0 1 1 944.29,563.51 Z" fill="#4a90d9" stroke="#4a90d9" stroke-width="0.4"/>
<path d="M864.6,562.0 L944.29,563.51 A79.7,79.7 0 0 1 923.30,615.91 Z" fill="#6aabf0" stroke="#6aabf0" stroke-width="0.4"/>
<path d="M864.6,562.0 L923.30,615.91 A79.7,79.7 0 0 1 898.89,633.95 Z" fill="#3d80d2" stroke="#3d80d2" stroke-width="0.4"/>
<path d="M864.6,562.0 L898.89,633.95 A79.7,79.7 0 0 1 882.18,639.74 Z" fill="#3676c6" stroke="#3676c6" stroke-width="0.4"/>
<path d="M864.6,562.0 L882.18,639.74 A79.7,79.7 0 0 1 875.87,640.90 Z" fill="#2c68b4" stroke="#2c68b4" stroke-width="0.4"/>
<path d="M864.6,562.0 L875.87,640.90 A79.7,79.7 0 0 1 871.38,641.41 Z" fill="#5ea4ee" stroke="#5ea4ee" stroke-width="0.4"/>
<path d="M864.6,562.0 L871.38,641.41 A79.7,79.7 0 0 1 868.75,641.59 Z" fill="#4a90d9" stroke="#4a90d9" stroke-width="0.4"/>
<path d="M864.6,562.0 L868.75,641.59 A79.7,79.7 0 0 1 867.99,641.63 Z" fill="#6aabf0" stroke="#6aabf0" stroke-width="0.4"/>
<path d="M864.6,562.0 L867.99,641.63 A79.7,79.7 0 0 1 867.24,641.66 Z" fill="#3d80d2" stroke="#3d80d2" stroke-width="0.4"/>
<path d="M864.6,562.0 L867.24,641.66 A79.7,79.7 0 0 1 784.90,562.00 Z" fill="#6c7b8b" stroke="#6c7b8b" stroke-width="0.4"/>
<rect x="985.00" y="429.50" width="9.60" height="9.60" rx="2" fill="#4a90d9"/>
<text transform="scale(0.8007,1)" x="1252.78 1263.34 1274.61 1285.01" y="440.50" font-size="15.6" font-weight="400" fill="#dadada" stroke="#dadada" stroke-width="0.3">ДНР:</text>
<text transform="scale(0.8808,1)" x="1180.72 1189.39 1198.07" y="440.50" font-size="15.6" font-weight="700" fill="#5b9ce3">668</text>
<rect x="985.00" y="457.93" width="9.60" height="9.60" rx="2" fill="#6aabf0"/>
<text transform="scale(0.8172,1)" x="1227.27 1237.68 1246.36 1255.03 1263.16 1269.98 1278.66 1286.95 1294.75 1301.57 1310.25 1318.70" y="468.93" font-size="15.6" font-weight="400" fill="#dadada" stroke="#dadada" stroke-width="0.3">Харьковская:</text>
<text transform="scale(0.9191,1)" x="1184.47 1193.15 1201.82" y="468.93" font-size="15.6" font-weight="700" fill="#5b9ce3">153</text>
<rect x="985.00" y="486.36" width="9.60" height="9.60" rx="2" fill="#3f84d6"/>
<text transform="scale(0.8239,1)" x="1217.08 1226.50 1235.18 1243.63 1252.30 1260.98 1269.65 1280.09 1287.89 1294.71 1303.39 1311.84" y="497.36" font-size="15.6" font-weight="400" fill="#dadada" stroke="#dadada" stroke-width="0.3">Запорожская:</text>
<text transform="scale(0.9134,1)" x="1195.62 1204.30" y="497.36" font-size="15.6" font-weight="700" fill="#5b9ce3">81</text>
<rect x="985.00" y="514.79" width="9.60" height="9.60" rx="2" fill="#3a7bcb"/>
<text transform="scale(0.7941,1)" x="1262.52 1273.79 1281.59 1292.31 1300.11 1306.94 1315.61 1324.06" y="525.79" font-size="15.6" font-weight="400" fill="#dadada" stroke="#dadada" stroke-width="0.3">Сумская:</text>
<text transform="scale(0.8673,1)" x="1224.83 1233.50" y="525.79" font-size="15.6" font-weight="700" fill="#5b9ce3">47</text>
<rect x="985.00" y="543.22" width="9.60" height="9.60" rx="2" fill="#2e6bb8"/>
<text transform="scale(0.7872,1)" x="1274.30 1284.53 1295.80 1306.20" y="554.22" font-size="15.6" font-weight="400" fill="#dadada" stroke="#dadada" stroke-width="0.3">ЛНР:</text>
<text transform="scale(0.8767,1)" x="1184.43 1193.10" y="554.22" font-size="15.6" font-weight="700" fill="#5b9ce3">17</text>
<rect x="985.00" y="571.65" width="9.60" height="9.60" rx="2" fill="#5ea4ee"/>
<text transform="scale(0.8181,1)" x="1225.94 1236.35 1245.02 1253.70 1261.50 1270.18 1278.79 1286.59 1293.42 1302.09 1310.54" y="582.65" font-size="15.6" font-weight="400" fill="#dadada" stroke="#dadada" stroke-width="0.3">Херсонская:</text>
<text transform="scale(0.8892,1)" x="1216.98 1225.66" y="582.65" font-size="15.6" font-weight="700" fill="#5b9ce3">12</text>
<rect x="985.00" y="600.08" width="9.60" height="9.60" rx="2" fill="#4a90d9"/>
<text transform="scale(0.8449,1)" x="1186.08 1195.17 1202.97 1211.64 1219.44 1226.27 1234.94 1243.39" y="611.08" font-size="15.6" font-weight="400" fill="#dadada" stroke="#dadada" stroke-width="0.3">Курская:</text>
<text transform="scale(0.9221,1)" x="1151.03" y="611.08" font-size="15.6" font-weight="700" fill="#5b9ce3">7</text>
<rect x="985.00" y="628.51" width="9.60" height="9.60" rx="2" fill="#6aabf0"/>
<text transform="scale(0.8306,1)" x="1206.54 1217.81 1226.52 1233.34 1242.02 1251.12 1259.80 1268.48 1276.76 1284.56 1291.39 1300.06 1308.51" y="639.51" font-size="15.6" font-weight="400" fill="#dadada" stroke="#dadada" stroke-width="0.3">Николаевская:</text>
<text transform="scale(0.9320,1)" x="1177.01" y="639.51" font-size="15.6" font-weight="700" fill="#5b9ce3">2</text>
<rect x="985.00" y="656.94" width="9.60" height="9.60" rx="2" fill="#3f84d6"/>
<text transform="scale(0.8332,1)" x="1202.76 1213.16 1221.83 1230.51 1239.12 1247.84 1253.53 1262.20 1270.49 1278.29 1285.11 1293.79 1302.24" y="667.94" font-size="15.6" font-weight="400" fill="#dadada" stroke="#dadada" stroke-width="0.3">Черниговская:</text>
<text transform="scale(0.9320,1)" x="1175.66" y="667.94" font-size="15.6" font-weight="700" fill="#5b9ce3">2</text>
<rect x="985.00" y="685.37" width="9.60" height="9.60" rx="2" fill="#6c7b8b"/>
<text transform="scale(0.7953,1)" x="1260.15 1271.42 1280.09 1284.43 1293.10 1301.55 1310.23 1318.90 1328.00 1336.68 1345.78 1354.46 1363.07 1371.75" y="696.37" font-size="15.6" font-weight="400" fill="#dadada" stroke="#dadada" stroke-width="0.3">Не определено:</text>
<text transform="scale(0.8967,1)" x="1229.10 1237.78 1246.45" y="696.37" font-size="15.6" font-weight="700" fill="#5b9ce3">339</text>
<text transform="scale(0.7541,1)" x="341.93 357.52 372.18 388.83 404.48 419.14 432.79 447.45 462.10 477.75 493.34 506.98" y="784.50" font-size="18" font-weight="700" fill="#4a90d9">БРОНЕТЕХНИКА</text>
<text transform="scale(0.8624,1)" x="474.57 480.10 489.33 498.56 507.80 512.41 521.64 532.18 536.79" y="784.50" font-size="16.6" font-weight="700" fill="#b4b4b4">(625 ед.)</text>
<rect x="258.75" y="796.80" width="761.85" height="2.90" rx="0" fill="#4a90d9"/>
<text transform="scale(0.7719,1)" x="100.61 116.20 130.79 144.38 159.91 175.13 190.35 204.95 219.54 235.07" y="1037.00" font-size="18" font-weight="700" fill="#4a90d9">АРТИЛЛЕРИЯ</text>
<text transform="scale(0.8700,1)" x="239.12 244.64 253.88 263.11 272.34 276.95 286.18 296.72 301.33" y="1037.00" font-size="16.6" font-weight="700" fill="#b4b4b4">(158 ед.)</text>
<rect x="78.00" y="1049.00" width="536.50" height="2.90" rx="0" fill="#4a90d9"/>
<text transform="scale(0.7195,1)" x="966.50 980.27 995.06 1010.83 1026.61 1042.39 1058.11 1074.89 1089.68" y="1037.00" font-size="18" font-weight="700" fill="#4a90d9">ТРАНСПОРТ</text>
<text transform="scale(0.8776,1)" x="922.18 927.71 936.94 946.17 955.41 960.02 969.25 979.79 984.40" y="1037.00" font-size="16.6" font-weight="700" fill="#b4b4b4">(543 ед.)</text>
<rect x="695.00" y="1049.00" width="173.75" height="2.90" rx="0" fill="#4a90d9"/>
<text transform="scale(0.7418,1)" x="1277.47 1293.16 1308.86 1324.49 1340.18 1356.03 1371.66" y="1037.00" font-size="18" font-weight="700" fill="#4a90d9">АВИАЦИЯ</text>
<text transform="scale(0.8766,1)" x="1189.87 1195.39 1204.63 1209.24 1218.47 1229.01 1233.62" y="1037.00" font-size="16.6" font-weight="700" fill="#b4b4b4">(2 ед.)</text>
<rect x="948.00" y="1049.00" width="252.50" height="2.90" rx="0" fill="#4a90d9"/>
<text transform="scale(0.7479,1)" x="396.93 408.05 421.19 434.33 445.44" y="902.00" font-size="18.2" font-weight="700" fill="#f6f6f6" stroke="#f6f6f6" stroke-width="0.4">ТАНКИ</text>
<text transform="scale(0.9216,1)" x="292.83 302.40" y="931.25" font-size="17.2" font-weight="400" fill="#4a90d9" stroke="#4a90d9" stroke-width="0.55">53</text>
<text transform="scale(0.7503,1)" x="388.05 397.65 408.25 418.97 428.98 437.77 448.45 461.29 471.97 482.57" y="931.25" font-size="19.2" font-weight="400" fill="#4a90d9" stroke="#4a90d9" stroke-width="0.45">уничтожено</text>
<text transform="scale(0.7882,1)" x="560.17 573.25 588.41 601.49 606.55 619.63 630.75" y="902.00" font-size="18.2" font-weight="700" fill="#f6f6f6" stroke="#f6f6f6" stroke-width="0.4">БМП/БТР</text>
<text transform="scale(0.9049,1)" x="463.66 473.22 482.79" y="931.25" font-size="17.2" font-weight="400" fill="#4a90d9" stroke="#4a90d9" stroke-width="0.55">197</text>
<text transform="scale(0.7503,1)" x="599.28 608.88 619.49 630.21 640.22 649.01 659.69 672.53 683.21 693.81" y="931.25" font-size="19.2" font-weight="400" fill="#4a90d9" stroke="#4a90d9" stroke-width="0.45">уничтожено</text>
<text transform="scale(0.7291,1)" x="778.22 791.30 803.44 817.60 830.74 842.88 856.02 869.17 880.28 894.44 909.60 923.76 936.84 949.92 962.69" y="902.00" font-size="18.2" font-weight="700" fill="#f6f6f6" stroke="#f6f6f6" stroke-width="0.4">БРОНЕАВТОМОБИЛИ</text>
<text transform="scale(0.8831,1)" x="662.64 672.21 681.77" y="931.25" font-size="17.2" font-weight="400" fill="#4a90d9" stroke="#4a90d9" stroke-width="0.55">352</text>
<text transform="scale(0.7503,1)" x="820.18 829.78 840.39 851.11 861.12 869.91 880.59 893.43 904.11 914.71" y="931.25" font-size="19.2" font-weight="400" fill="#4a90d9" stroke="#4a90d9" stroke-width="0.45">уничтожено</text>
<text transform="scale(0.7567,1)" x="997.19 1010.27 1023.41 1039.86 1052.00 1065.15 1077.29 1089.43 1102.57 1115.71" y="902.00" font-size="18.2" font-weight="700" fill="#f6f6f6" stroke="#f6f6f6" stroke-width="0.4">ИНЖЕНЕРНАЯ</text>
<text transform="scale(0.7278,1)" x="1062.93 1074.05 1086.19 1098.32 1111.47 1124.55 1135.66" y="929.00" font-size="18.2" font-weight="700" fill="#f6f6f6" stroke="#f6f6f6" stroke-width="0.4">ТЕХНИКА</text>
<text transform="scale(0.9505,1)" x="793.04 802.61" y="958.25" font-size="17.2" font-weight="400" fill="#4a90d9" stroke="#4a90d9" stroke-width="0.55">10</text>
<text transform="scale(0.7503,1)" x="1033.42 1043.02 1053.63 1064.35 1074.35 1083.15 1093.83 1106.67 1117.35 1127.95" y="958.25" font-size="19.2" font-weight="400" fill="#4a90d9" stroke="#4a90d9" stroke-width="0.45">уничтожено</text>
<text transform="scale(0.7794,1)" x="1194.64 1207.60 1219.74 1231.07 1241.38 1255.54" y="902.00" font-size="18.2" font-weight="700" fill="#f6f6f6" stroke="#f6f6f6" stroke-width="0.4">ДРУГОЕ</text>
<text transform="scale(0.9551,1)" x="950.65 960.21" y="931.25" font-size="17.2" font-weight="400" fill="#4a90d9" stroke="#4a90d9" stroke-width="0.55">13</text>
<text transform="scale(0.7503,1)" x="1240.00 1249.60 1260.20 1270.92 1280.93 1289.72 1300.40 1313.24 1323.92 1334.52" y="931.25" font-size="19.2" font-weight="400" fill="#4a90d9" stroke="#4a90d9" stroke-width="0.45">уничтожено</text>
<text transform="scale(0.6616,1)" x="182.52 195.66 208.81" y="1154.25" font-size="18.2" font-weight="700" fill="#f6f6f6" stroke="#f6f6f6" stroke-width="0.4">САУ</text>
<text transform="scale(0.9040,1)" x="87.18 96.75 106.31" y="1183.75" font-size="17.2" font-weight="400" fill="#4a90d9" stroke="#4a90d9" stroke-width="0.55">121</text>
<text transform="scale(0.7503,1)" x="145.49 155.09 165.69 176.42 186.42 195.21 205.89 218.73 229.41 240.02" y="1183.75" font-size="19.2" font-weight="400" fill="#4a90d9" stroke="#4a90d9" stroke-width="0.45">уничтожено</text>
<text transform="scale(0.7634,1)" x="298.22 311.36 323.50 334.62 347.70 360.47 373.24 385.38 397.52 410.60" y="1154.25" font-size="18.2" font-weight="700" fill="#f6f6f6" stroke="#f6f6f6" stroke-width="0.4">АРТИЛЛЕРИЯ</text>
<text transform="scale(0.9505,1)" x="236.21 245.77" y="1183.75" font-size="17.2" font-weight="400" fill="#4a90d9" stroke="#4a90d9" stroke-width="0.55">10</text>
<text transform="scale(0.7503,1)" x="328.74 338.34 348.94 359.67 369.67 378.46 389.14 401.99 412.66 423.27" y="1183.75" font-size="19.2" font-weight="400" fill="#4a90d9" stroke="#4a90d9" stroke-width="0.45">уничтожено</text>
<text transform="scale(0.7470,1)" x="533.22 545.36 558.50 569.91" y="1154.25" font-size="18.2" font-weight="700" fill="#f6f6f6" stroke="#f6f6f6" stroke-width="0.4">РСЗО</text>
<text transform="scale(0.9613,1)" x="381.77 391.34" y="1183.75" font-size="17.2" font-weight="400" fill="#4a90d9" stroke="#4a90d9" stroke-width="0.55">12</text>
<text transform="scale(0.7503,1)" x="518.65 528.25 538.86 549.58 559.58 568.38 579.06 591.90 602.58 613.18" y="1183.75" font-size="19.2" font-weight="400" fill="#4a90d9" stroke="#4a90d9" stroke-width="0.45">уничтожено</text>
<text transform="scale(0.7357,1)" x="740.27 753.35 766.49" y="1154.25" font-size="18.2" font-weight="700" fill="#f6f6f6" stroke="#f6f6f6" stroke-width="0.4">ПВО</text>
<text transform="scale(0.9533,1)" x="534.22 543.79" y="1183.75" font-size="17.2" font-weight="400" fill="#4a90d9" stroke="#4a90d9" stroke-width="0.55">15</text>
<text transform="scale(0.7503,1)" x="707.90 717.50 728.10 738.83 748.83 757.63 768.30 781.15 791.83 802.43" y="1183.75" font-size="19.2" font-weight="400" fill="#4a90d9" stroke="#4a90d9" stroke-width="0.45">уничтожено</text>
<text transform="scale(0.7316,1)" x="1001.82 1014.96 1028.10 1039.22 1053.38 1068.54 1082.70 1095.78 1108.86 1121.63" y="1154.25" font-size="18.2" font-weight="700" fill="#f6f6f6" stroke="#f6f6f6" stroke-width="0.4">АВТОМОБИЛИ</text>
<text transform="scale(0.8806,1)" x="825.98 835.55 845.12" y="1183.75" font-size="17.2" font-weight="400" fill="#4a90d9" stroke="#4a90d9" stroke-width="0.55">543</text>
<text transform="scale(0.7503,1)" x="1009.10 1018.70 1029.30 1040.03 1050.03 1058.82 1069.50 1082.35 1093.02 1103.63" y="1183.75" font-size="19.2" font-weight="400" fill="#4a90d9" stroke="#4a90d9" stroke-width="0.45">уничтожено</text>
<text transform="scale(0.7278,1)" x="1324.19 1337.34 1350.48 1365.64 1379.80 1392.57 1404.74 1415.86" y="1154.25" font-size="18.2" font-weight="700" fill="#f6f6f6" stroke="#f6f6f6" stroke-width="0.4">САМОЛЁТЫ</text>
<text transform="scale(0.9170,1)" x="1044.27" y="1183.75" font-size="17.2" font-weight="400" fill="#4a90d9" stroke="#4a90d9" stroke-width="0.55">1</text>
<text transform="scale(0.7503,1)" x="1293.31 1302.91 1313.51 1324.23 1334.24 1343.03 1353.71 1366.55 1377.23 1387.83" y="1183.75" font-size="19.2" font-weight="400" fill="#4a90d9" stroke="#4a90d9" stroke-width="0.45">уничтожено</text>
<text transform="scale(0.7337,1)" x="1503.06 1516.20 1528.34 1540.48 1551.60 1565.75 1578.52 1590.70 1601.82" y="1154.25" font-size="18.2" font-weight="700" fill="#f6f6f6" stroke="#f6f6f6" stroke-width="0.4">ВЕРТОЛЁТЫ</text>
<text transform="scale(0.9170,1)" x="1198.31" y="1183.75" font-size="17.2" font-weight="400" fill="#4a90d9" stroke="#4a90d9" stroke-width="0.55">1</text>
<text transform="scale(0.7503,1)" x="1482.55 1492.15 1502.76 1513.48 1523.49 1532.28 1542.96 1555.80 1566.48 1577.08" y="1183.75" font-size="19.2" font-weight="400" fill="#4a90d9" stroke="#4a90d9" stroke-width="0.45">уничтожено</text>
<g id="icons">
<path d="M265.6,839.5 L297.5,837.2 L302.7,833.4 L316.2,833.0 L317.2,831.4 L324.7,831.1 L325.6,828.3 L335.0,828.3 L336.9,831.1 L340.6,833.4 L351.4,833.4 L360.8,834.6 L362.2,836.2 L361.2,839.0 L340.6,840.5 L373.9,840.8 L373.9,850.3 L366.9,855.0 L362.2,861.1 L289.0,861.6 L281.6,854.0 L278.8,849.4 L281.6,847.0 L300.3,842.8 L295.6,841.4 L265.6,841.4 Z" fill="#ededed"/>
<line x1="351.9" y1="824" x2="351.9" y2="834" stroke="#bdbdbd" stroke-width="0.7"/>
<path d="M441.1,835.3 L446.2,833.9 L465.0,833.0 L465.9,828.8 L448.1,827.8 L448.1,826.9 L472.5,825.9 L472.5,827.8 L468.8,828.8 L469.7,832.0 L478.1,833.0 L478.6,828.8 L481.9,824.5 L484.7,824.5 L483.8,829.7 L480.9,833.0 L489.4,833.4 L491.2,832.5 L495.9,832.3 L510.0,832.5 L511.4,834.8 L516.6,836.2 L515.6,848.4 L518.4,851.2 L518.0,855.9 L513.8,856.4 L512.8,862.5 L504.4,866.2 L462.2,869.0 L443.4,862.5 L433.6,859.7 L430.8,851.2 L441.6,839.0 Z" fill="#ededed"/>
<line x1="496.1" y1="816.5" x2="496.1" y2="833" stroke="#bdbdbd" stroke-width="0.7"/>
<path d="M593.6,837.2 L616.6,828.3 L631.6,827.8 L632.5,819.4 L644.2,818.4 L645.6,816.6 L649.4,817.0 L649.8,819.4 L651.7,817.5 L655.0,818.0 L655.5,819.4 L662.0,818.0 L655.9,820.3 L655.9,828.3 L665.3,828.8 L667.2,839.0 L687.8,842.8 L688.8,852.2 L687.8,854.0 L688.8,856.9 L687.8,862.5 L682.2,866.2 L674.7,865.3 L670.0,859.7 L667.7,866.2 L663.4,870.0 L657.8,869.0 L653.1,864.4 L650.8,857.8 L635.3,857.8 L630.6,863.0 L622.2,863.0 L617.5,857.3 L614.7,857.8 L610.9,862.5 L607.2,865.8 L601.6,865.3 L597.8,860.6 L596.4,853.1 L595.0,854.0 L595.0,860.6 L591.7,860.6 L591.7,853.1 L590.3,852.2 L590.3,849.4 L592.7,849.4 Z" fill="#ededed"/>
<path d="M774.5,846.1 L795.6,842.3 L796.1,837.2 L803.1,836.7 L803.6,832.5 L810.6,831.1 L815.3,834.8 L827.5,834.4 L828.4,840.0 L838.8,841.4 L839.2,843.8 L852.8,844.7 L858.9,852.2 L857.5,856.9 L847.2,863.9 L785.3,863.4 L776.9,855.9 L776.4,852.2 L772.7,850.8 Z" fill="#ededed"/>
<path d="M754.4,825.5 L765.2,824.1 L801.2,822.2 L803.1,823.6 L816.2,823.6 L817.7,830.2 L810.6,830.8 L803.6,832.5 L786.2,833.0 L782.5,834.8 L777.3,831.6 L760.0,833.0 L760.0,834.4 L751.1,834.8 L750.6,832.0 L754.4,831.1 Z" fill="#ededed"/>
<line x1="781.2" y1="833.5" x2="781.2" y2="845" stroke="#ededed" stroke-width="1.0"/>
<line x1="783.2" y1="833.5" x2="783.2" y2="844.6" stroke="#ededed" stroke-width="1.0"/>
<path d="M756.7,834.4 L758.1,840.9 L755.8,844.7 L757.7,851.2 L764.2,849.4 L765.6,844.2 L761.9,840.5 L760.5,834.4 Z M760.5,842.8 L762.8,845.2 L761.4,847.0 L759.5,845.2 Z" fill="#ededed" fill-rule="evenodd"/>
<path d="M906.1,834.8 L932.3,834.6 L932.8,833.0 L918.8,831.6 L919.7,824.5 L935.2,824.1 L932.3,817.5 L933.8,817.0 L937.0,824.1 L946.9,824.1 L947.8,819.4 L942.2,818.9 L942.2,816.6 L960.9,816.1 L960.0,818.0 L952.5,818.9 L958.1,819.4 L958.1,820.5 L951.1,820.8 L950.6,824.1 L960.0,826.4 L990.0,827.1 L990.0,828.3 L965.6,830.2 L960.0,833.0 L992.8,835.3 L1012.0,845.6 L998.4,857.8 L998.0,862.0 L994.2,868.1 L985.3,868.6 L980.6,864.8 L975.0,868.6 L966.6,868.6 L958.1,859.2 L956.2,859.2 L955.3,864.4 L951.6,869.1 L941.2,868.6 L938.0,864.4 L934.7,869.1 L924.4,869.1 L920.2,860.2 L915.0,859.7 L913.1,850.8 L909.4,849.4 Z" fill="#ededed"/>
<text x="954.8" y="855.6" font-family="'Liberation Serif',serif" font-size="27" font-weight="700" fill="#222527" stroke="#222527" stroke-width="0.5" text-anchor="middle">?</text>
<path d="M83.4,1093.8 L88.1,1092.3 L91.4,1090.0 L103.1,1087.7 L107.8,1086.7 L107.3,1084.8 L123.8,1084.2 L123.8,1085.1 L116.2,1086.2 L114.8,1090.0 L120.9,1093.3 L123.8,1090.9 L127.5,1092.3 L132.2,1092.8 L175.8,1073.1 L178.1,1069.8 L181.9,1068.9 L183.9,1071.2 L182.8,1074.5 L179.1,1075.9 L176.2,1075.5 L135.0,1095.6 L133.6,1096.1 L135.9,1103.1 L152.8,1104.1 L154.7,1107.8 L157.5,1108.8 L157.0,1117.2 L152.8,1120.5 L135.9,1121.9 L96.6,1120.0 L90.5,1117.2 L89.1,1114.4 L91.9,1104.1 L100.3,1103.1 L91.9,1102.2 L83.4,1100.8 Z M179.2,1072.2 L180.3,1071.2 L181.2,1072.0 L180.3,1073.2 Z" fill="#ededed" fill-rule="evenodd"/>
<line x1="89.0" y1="1075" x2="88.7" y2="1093" stroke="#c8c8c8" stroke-width="0.7"/>
<path d="M221.1,1072.2 L223.0,1070.5 L229.1,1073.6 L230.5,1075.0 L257.2,1087.7 L260.0,1086.7 L263.8,1089.1 L266.6,1088.1 L288.1,1097.5 L289.1,1099.4 L288.1,1105.0 L296.6,1109.2 L308.8,1110.2 L312.5,1109.7 L322.8,1110.2 L324.2,1111.1 L328.9,1110.6 L330.3,1118.1 L328.9,1118.6 L324.7,1114.8 L321.9,1115.3 L321.4,1119.5 L312.5,1120.0 L307.8,1115.3 L288.1,1114.4 L285.3,1118.1 L280.6,1118.6 L279.7,1115.3 L276.9,1119.1 L267.5,1119.1 L264.7,1116.2 L263.8,1119.1 L258.1,1119.5 L256.2,1115.3 L257.7,1111.1 L260.9,1109.7 L265.6,1111.1 L268.9,1108.8 L272.2,1101.2 L266.1,1097.5 L265.6,1093.8 L229.1,1076.4 L222.5,1075.0 Z" fill="#ededed" fill-rule="evenodd"/>
<path d="M378.6,1104.1 L395.9,1083.4 L406.2,1077.8 L412.3,1069.8 L422.2,1074.1 L417.5,1080.2 L419.4,1084.4 L402.5,1104.5 L409.1,1106.4 L416.6,1106.9 L417.0,1102.2 L422.2,1101.7 L422.7,1099.4 L428.8,1098.9 L430.6,1094.2 L436.2,1091.9 L449.4,1092.3 L455.0,1098.4 L456.9,1102.2 L456.4,1108.8 L454.5,1109.7 L456.9,1111.6 L455.5,1114.4 L452.2,1115.3 L449.4,1120.0 L444.7,1121.9 L441.9,1120.0 L439.1,1121.9 L432.5,1121.9 L428.8,1118.1 L427.8,1115.3 L420.3,1115.8 L418.0,1120.0 L413.8,1120.9 L410.0,1118.6 L407.7,1120.9 L400.6,1121.4 L396.9,1118.6 L395.0,1121.4 L390.3,1121.4 L387.0,1118.1 L387.5,1114.4 L383.8,1113.4 L383.3,1111.6 L390.3,1110.6 L390.3,1109.2 L383.8,1108.8 Z M410.5,1077.3 L414.7,1072.2 L419.8,1074.1 L416.1,1078.8 Z" fill="#ededed" fill-rule="evenodd"/>
<path d="M512.7,1103.6 L520.2,1101.2 L520.6,1099.8 L544.1,1098.9 L543.1,1091.9 L545.0,1089.1 L544.1,1086.2 L537.0,1072.2 L531.9,1071.7 L531.9,1069.4 L547.8,1069.4 L547.8,1071.7 L542.2,1072.2 L545.9,1080.2 L547.8,1076.9 L550.6,1076.4 L552.5,1070.8 L557.7,1081.1 L553.9,1082.0 L553.9,1084.8 L564.7,1084.4 L567.5,1084.8 L578.8,1086.7 L590.5,1087.2 L592.8,1095.6 L584.4,1098.4 L600.3,1099.4 L600.8,1101.7 L606.9,1102.7 L605.9,1112.5 L593.8,1118.1 L581.6,1120.9 L534.7,1121.9 L527.2,1118.1 L520.2,1112.5 L519.7,1109.7 L516.4,1108.8 L516.4,1107.3 L512.7,1106.9 Z" fill="#ededed"/>
<path d="M567.5,1084.8 L598.4,1069.4 L600.3,1069.8 L600.8,1071.1 L575.0,1083.9 L572.0,1086.0 Z" fill="#ededed"/>
<path d="M575.9,1084.6 L604.5,1068.9 L606.4,1069.8 L577.8,1085.5 L577.8,1087.0 Z" fill="#ededed"/>
<path d="M728.0,1084.8 L785.6,1082.0 L794.1,1082.5 L795.9,1076.9 L810.0,1073.6 L819.4,1073.6 L819.8,1075.9 L828.8,1076.9 L834.8,1086.2 L834.8,1095.6 L832.5,1098.9 L835.3,1100.3 L834.8,1104.1 L828.8,1108.8 L827.8,1112.5 L823.1,1117.2 L813.8,1117.2 L810.5,1113.9 L807.2,1117.7 L797.8,1117.7 L794.1,1113.4 L792.7,1109.2 L782.8,1109.2 L780.0,1114.4 L777.2,1117.2 L770.6,1117.2 L766.9,1112.5 L763.1,1117.2 L752.8,1117.2 L749.5,1113.4 L746.7,1117.2 L737.8,1117.2 L734.5,1112.5 L735.0,1105.9 L728.4,1105.5 L728.4,1101.2 L734.1,1100.3 L734.1,1099.4 L728.4,1098.9 Z" fill="#ededed"/>
<path d="M960.0,1076.4 L983.4,1079.2 L984.4,1077.3 L1001.2,1079.7 L997.5,1076.4 L1008.8,1076.9 L1029.8,1068.9 L1034.1,1073.1 L1025.6,1088.1 L1045.8,1084.8 L1047.7,1087.7 L1041.6,1095.6 L1035.5,1097.0 L1034.5,1099.8 L1031.2,1100.8 L1033.6,1102.7 L1030.8,1105.9 L1035.5,1108.8 L1033.6,1120.0 L1028.9,1120.0 L1022.8,1107.3 L1019.1,1106.4 L1012.5,1121.4 L1005.0,1121.9 L996.1,1102.7 L987.2,1100.3 L995.6,1100.8 L992.8,1097.0 L979.2,1089.1 L980.2,1086.7 L967.0,1081.1 Z" fill="#ededed"/>
<path d="M1100.9,1088.1 L1105.2,1090.9 L1132.8,1091.4 L1135.6,1088.6 L1145.0,1087.7 L1146.4,1085.8 L1149.7,1085.8 L1150.6,1087.7 L1153.4,1088.1 L1155.3,1090.9 L1166.6,1091.9 L1167.5,1094.7 L1169.8,1096.1 L1174.1,1101.2 L1178.8,1105.9 L1179.7,1111.1 L1175.0,1112.0 L1182.5,1114.4 L1181.6,1115.8 L1175.0,1115.8 L1156.2,1114.4 L1153.4,1113.0 L1160.9,1112.5 L1137.5,1109.7 L1132.3,1110.6 L1131.4,1112.0 L1129.1,1111.1 L1129.1,1109.2 L1123.9,1107.8 L1120.2,1098.9 L1115.9,1098.4 L1115.0,1100.3 L1112.7,1099.8 L1112.7,1098.0 L1108.4,1097.5 L1107.0,1099.4 L1103.8,1098.9 L1100.9,1096.6 Z" fill="#ededed"/>
<path d="M1094.8,1075.5 L1099.5,1075.0 L1099.1,1082.0 L1100.0,1082.5 L1100.0,1094.7 L1096.7,1094.7 L1097.2,1084.4 L1096.2,1082.0 Z" fill="#ededed"/>
<path d="M1091.1,1083.4 L1093.0,1082.5 L1097.2,1083.9 L1103.8,1083.0 L1104.7,1087.2 L1111.2,1086.7 L1110.3,1087.7 L1103.8,1088.1 L1097.2,1086.2 L1093.0,1088.1 L1091.1,1087.2 Z" fill="#ededed"/>
<ellipse cx="1147.3" cy="1083.4" rx="3.9" ry="2.5" fill="#ededed"/>
<path d="M1108.0,1075.0 L1108.9,1074.5 L1141.2,1082.0 L1141.2,1083.4 Z" fill="#ededed"/>
<path d="M1099.1,1081.4 L1099.1,1082.3 L1143.1,1085.1 L1143.1,1083.9 Z" fill="#ededed"/>
<path d="M1150.6,1083.9 L1199.8,1083.9 L1199.8,1085.1 L1150.6,1085.5 Z" fill="#ededed"/>
<path d="M1151.1,1082.0 L1159.1,1077.8 L1164.7,1077.1 L1164.7,1077.8 L1160.0,1079.2 L1152.5,1083.4 Z" fill="#ededed"/>
</g>
</svg>
</div>
</body>
</html>
